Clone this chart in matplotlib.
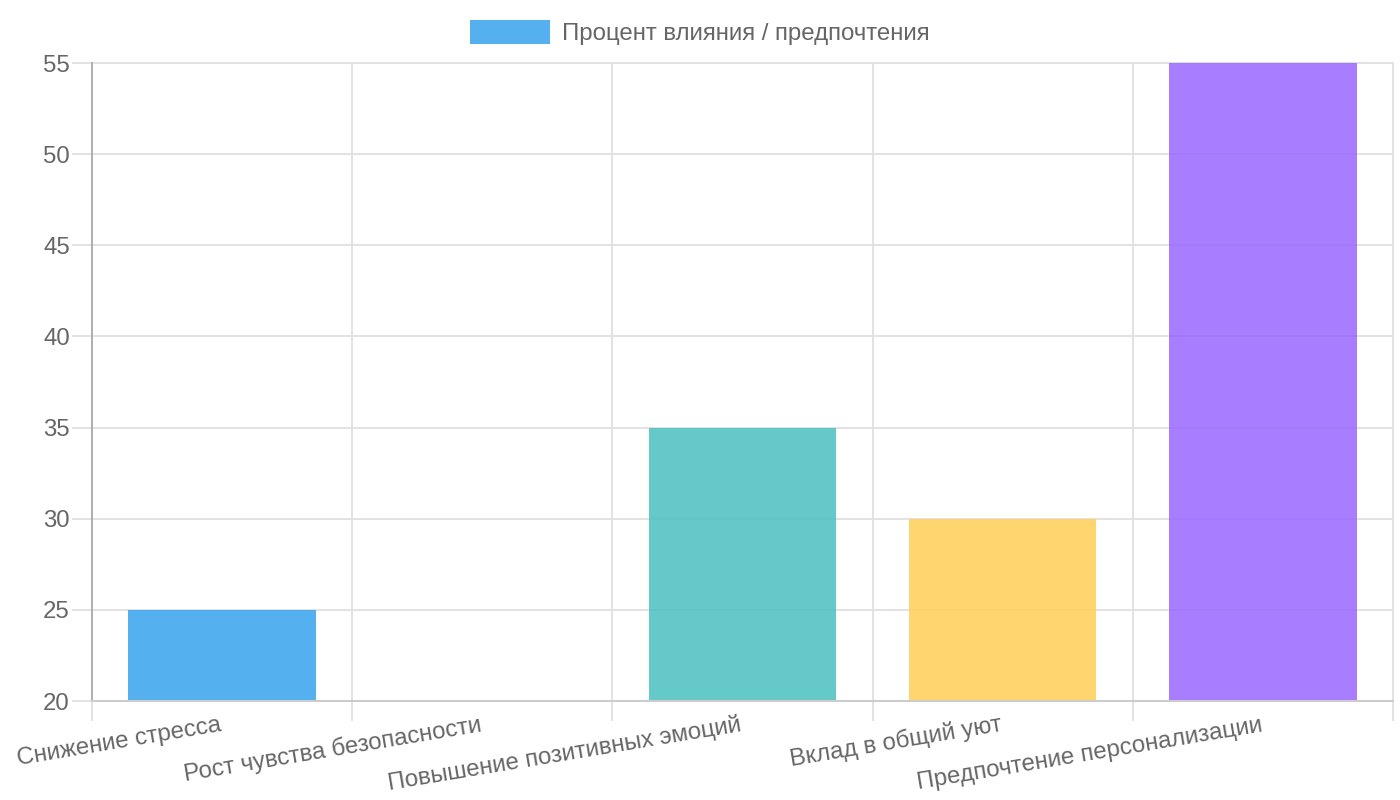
import matplotlib
matplotlib.use("Agg")
import matplotlib.pyplot as plt

categories = ["Снижение стресса", "Рост чувства безопасности",
              "Повышение позитивных эмоций", "Вклад в общий уют",
              "Предпочтение персонализации"]
values = [25, 20, 35, 30, 55]
bar_colors = ["#36a2eb", "#ff6384", "#4bc0c0", "#ffce56", "#9966ff"]
series_label = "Процент влияния / предпочтения"
y_ticks = [20, 25, 30, 35, 40, 45, 50, 55]

PX = 0.72  # points per pixel at dpi 100
plt.rcParams['font.family'] = ['Liberation Sans', 'DejaVu Sans']
FS = 24 * PX
TXT = "#666666"
GRID = "#e2e2e2"

fig = plt.figure(figsize=(14, 8), dpi=100)
ax = fig.add_axes([92 / 1400, 1 - 701 / 800, (1393 - 92) / 1400, (701 - 63) / 800])

x = list(range(len(categories)))
bars = ax.bar(x, values, width=0.72, color=bar_colors, alpha=0.85,
              label=series_label, zorder=2)

ax.set_xlim(-0.5, len(categories) - 0.5)
ax.set_ylim(y_ticks[0], y_ticks[-1])
ax.set_yticks(y_ticks)
ax.set_yticklabels([str(v) for v in y_ticks])

ax.set_xticks(x)
ax.set_xticklabels(categories)
ax.set_xticks([i - 0.5 for i in range(len(categories) + 1)], minor=True)

ax.tick_params(axis='x', which='major', length=0, pad=30 * PX, labelsize=FS, labelcolor=TXT)
ax.tick_params(axis='x', which='minor', length=20 * PX, width=2 * PX, color=GRID)
ax.tick_params(axis='y', length=20 * PX, width=2 * PX, color=GRID, pad=2 * PX,
               labelsize=FS, labelcolor=TXT)
for lab in ax.get_xticklabels():
    lab.set_rotation(9.5)
    lab.set_ha('right')
    lab.set_va('baseline')
    lab.set_rotation_mode('anchor')

ax.grid(axis='x', which='minor', color=GRID, linewidth=2 * PX, zorder=0)
ax.grid(axis='y', which='major', color=GRID, linewidth=2 * PX, zorder=0)
ax.set_axisbelow(True)
for t in ax.xaxis.get_minor_ticks() + ax.yaxis.get_major_ticks():
    t.gridline.set_clip_on(False)

for s in ['top', 'right']:
    ax.spines[s].set_visible(False)
ax.spines['left'].set_color('#b0b0b0')
ax.spines['left'].set_linewidth(2 * PX)
ax.spines['left'].set_zorder(3)
ax.spines['bottom'].set_color('#cccccc')
ax.spines['bottom'].set_linewidth(2 * PX)
ax.spines['bottom'].set_zorder(3)

fig.legend(handles=[bars[0]], labels=[series_label], loc='upper center',
           bbox_to_anchor=(0.5, 1 - 20 / 800), frameon=False, fontsize=FS,
           handlelength=80 / 24, handleheight=1.1615, handletextpad=0.5,
           borderpad=0, borderaxespad=0, labelcolor=TXT)

fig.savefig("out.png", dpi=100)
